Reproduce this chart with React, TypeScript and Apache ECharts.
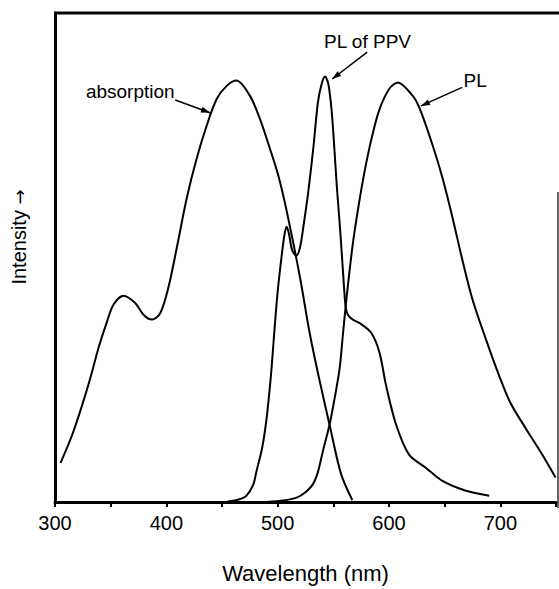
import React, { useEffect, useRef } from "react";
import * as echarts from "echarts";

const absorptionNm = [305, 315.4, 324.4, 331.8, 339.2, 346.7, 352.6, 361.6, 372, 379.5, 387, 394.5, 402, 409.4, 418.4, 427.3, 436.3, 445.2, 454.2, 463, 475, 484, 493, 500.4, 508, 520, 528.7, 537, 546.6, 557, 567];
const absorptionI = [8, 13.7, 19.8, 25.4, 31.6, 36.9, 40.4, 42.2, 40.7, 38.3, 37.3, 38.6, 44, 52, 62.2, 70.3, 77, 82.4, 85.1, 86.2, 83.1, 78.4, 72.3, 66.9, 59.6, 46, 34.6, 25.5, 15.8, 5.7, 0.4];

const ppvNm = [455, 465, 472, 478, 481, 486, 490, 494, 497.4, 500, 503.4, 506, 508, 510, 513, 516.8, 520, 523.4, 527.2, 531.7, 536.2, 539.5, 542.5, 545.5, 548.5, 551, 553, 555, 557, 559, 561, 563, 567.5, 573.5, 584, 591.4, 597.4, 606.4, 618, 633, 648, 669, 690];
const ppvI = [0.1, 0.5, 1.3, 3.5, 6.3, 11, 17, 26, 36, 43, 50, 54.5, 56.3, 55, 51.5, 50.4, 52, 56.8, 62.9, 71.7, 81.8, 85.5, 87, 85.5, 80, 72, 65, 59, 52.8, 46, 40, 38.3, 37.3, 36.6, 34.6, 30.6, 23.8, 15.8, 9.7, 7, 4.3, 2.3, 1.3];

const plNm = [490, 505, 517, 525, 531.6, 536, 540.6, 546.6, 551, 555.6, 558.5, 562, 567.5, 573, 578, 584, 591, 600, 608, 621.2, 627.2, 639.1, 648, 657, 666, 675, 687, 698.8, 709, 722.7, 737.6, 749.6];
const plI = [0, 0.3, 0.9, 2, 3.6, 6, 10.4, 15.8, 21, 27.2, 34, 42, 52.8, 61, 67.5, 74, 80, 84.4, 85.8, 83.1, 80.7, 73, 66.3, 58.2, 49.4, 41.4, 33.3, 25.9, 20.3, 15.1, 9.7, 5];

const xTicks = [300, 400, 500, 600, 700];

const labels = [
  { text: "absorption", at: [367.6, 84], from: [408, 82.2], to: [439.2, 79.6] },
  { text: "PL of PPV", at: [580.7, 94.1], from: [580.4, 92], to: [549, 86.5] },
  { text: "PL", at: [677.4, 86.1], from: [665.7, 84.8], to: [628.7, 81] },
];

const FONT = "'Liberation Sans', Arial, Helvetica, sans-serif";

const zip = (a: number[], b: number[]) => a.map((v, i) => [v, b[i]]);

export default function App() {
  const ref = useRef<HTMLDivElement>(null);
  useEffect(() => {
    if (!ref.current) return;
    const chart = echarts.init(ref.current, null, { renderer: "svg" });
    const lineStyle = { color: "#000", width: 2 };
    const mk = (name: string, data: number[][]) => ({
      name,
      type: "line",
      data,
      smooth: 0.3,
      showSymbol: false,
      symbol: "none",
      lineStyle,
      itemStyle: { color: "#000" },
      z: 3,
    });
    chart.setOption({
      animation: false,
      backgroundColor: "#fff",
      grid: { left: 55, top: 13, width: 503, height: 495 },
      xAxis: {
        type: "value",
        min: 300,
        max: 750,
        interval: 50,
        splitLine: { show: false },
        axisLine: { show: true, lineStyle: { color: "#000", width: 3 } },
        axisTick: { show: true, length: 5, lineStyle: { color: "#000", width: 2 } },
        axisLabel: {
          margin: 11,
          color: "#000",
          fontSize: 20,
          fontFamily: FONT,
          formatter: (v: number) => (xTicks.includes(v) ? String(v) : ""),
        },
        name: "Wavelength (nm)",
        nameLocation: "middle",
        nameGap: 60,
        nameTextStyle: { color: "#000", fontSize: 22, fontFamily: FONT },
      },
      yAxis: {
        type: "value",
        min: 0,
        max: 100,
        splitLine: { show: false },
        axisLine: { show: true, onZero: false, lineStyle: { color: "#000", width: 3 } },
        axisTick: { show: false },
        axisLabel: { show: false },
      },
      series: [
        mk("absorption", zip(absorptionNm, absorptionI)),
        mk("PL of PPV", zip(ppvNm, ppvI)),
        mk("PL", zip(plNm, plI)),
      ],
    });

    const px = (p: number[]) => chart.convertToPixel({ gridIndex: 0 }, p) as number[];
    const graphics: any[] = [
      { type: "line", shape: { x1: 54, y1: 13, x2: 559, y2: 13 }, style: { stroke: "#000", lineWidth: 3 } },
      { type: "line", shape: { x1: 558, y1: 192, x2: 558, y2: 508 }, style: { stroke: "#333", lineWidth: 1.5 } },
      {
        type: "text",
        x: 19,
        y: 237,
        rotation: Math.PI / 2,
        style: {
          text: "Intensity {a|→}",
          fill: "#000",
          font: `20px ${FONT}`,
          align: "center",
          verticalAlign: "middle",
          rich: { a: { fill: "#000", fontFamily: "'DejaVu Sans', sans-serif", fontSize: 18 } },
        },
      },
    ];
    labels.forEach((l) => {
      const a = px(l.at);
      const f = px(l.from);
      const t = px(l.to);
      graphics.push({
        type: "text",
        x: a[0],
        y: a[1],
        style: { text: l.text, fill: "#000", font: `19px ${FONT}`, align: "center", verticalAlign: "middle" },
      });
      graphics.push({
        type: "line",
        shape: { x1: f[0], y1: f[1], x2: t[0], y2: t[1] },
        style: { stroke: "#000", lineWidth: 1.5 },
      });
      const ang = Math.atan2(t[1] - f[1], t[0] - f[0]);
      const L = 9, W = 3;
      const bx = t[0] - L * Math.cos(ang), by = t[1] - L * Math.sin(ang);
      graphics.push({
        type: "polygon",
        shape: {
          points: [
            [t[0], t[1]],
            [bx + W * Math.sin(ang), by - W * Math.cos(ang)],
            [bx - W * Math.sin(ang), by + W * Math.cos(ang)],
          ],
        },
        style: { fill: "#000" },
      });
    });
    chart.setOption({ graphic: graphics });
    return () => chart.dispose();
  }, []);
  return <div ref={ref} style={{ width: 559, height: 589, position: "absolute", left: 0, top: 0 }} />;
}
